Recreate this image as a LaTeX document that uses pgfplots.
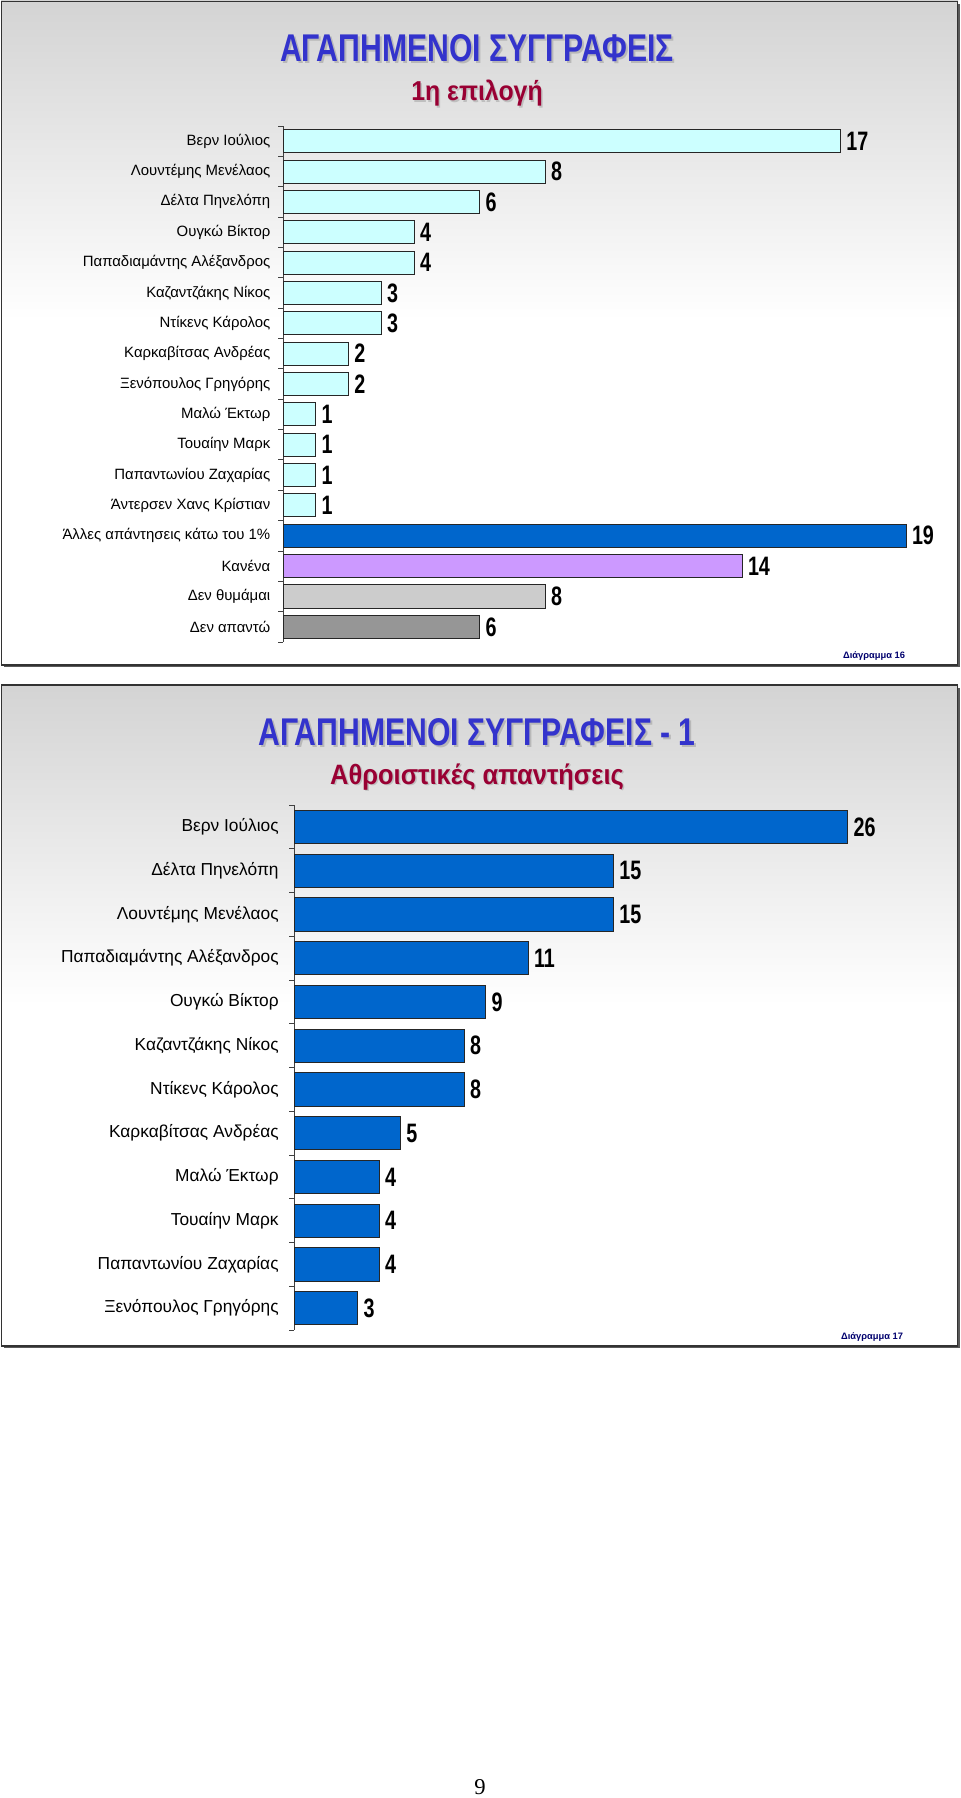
\documentclass[border=0pt]{standalone}
\usepackage{fontspec}
\setmainfont{Liberation Sans}
\newfontfamily\narrowfont{Liberation Sans}[FakeStretch=0.78]
\newfontfamily\valfont{Liberation Sans}[FakeStretch=0.74]
\newfontfamily\subfont{Liberation Sans}[FakeStretch=0.91]
\newfontfamily\seriffont{Liberation Serif}
\usepackage{pgfplots}
\pgfplotsset{compat=1.18}
\definecolor{titleblue}{RGB}{51,51,204}
\definecolor{subred}{RGB}{153,0,51}
\definecolor{cyanbar}{RGB}{204,255,255}
\definecolor{bluebar}{RGB}{0,102,204}
\definecolor{lilac}{RGB}{204,153,255}
\definecolor{lgray}{RGB}{204,204,204}
\definecolor{dgray}{RGB}{150,150,150}
\definecolor{navy}{RGB}{0,0,110}
\pgfplotsset{
  barchart/.style={
    scale only axis,
    xbar, bar width=0.76, bar shift=0pt,
    xmin=0, y dir=reverse,
    axis x line=none, axis y line*=left,
    axis line style={black!75, line width=0.6pt},
    major tick length=0pt,
    extra y tick labels={},
    extra y tick style={major tick length=3.5pt, tick align=outside, tick style={black!75, line width=0.6pt}},
    yticklabel style={anchor=east, text=black},
    nodes near coords, point meta=x,
    /pgf/number format/assume math mode=true,
    every node near coord/.append style={font=\valfont\bfseries\fontsize{20}{20}\selectfont, text=black, anchor=west, inner sep=1pt, xshift=3pt},
    clip=false,
  },
}
\begin{document}
\begin{tikzpicture}
\path[use as bounding box] (0,0) rectangle (720pt,-1348.5pt);
\begin{scope}[x=0.75pt,y=-0.75pt]
% panel 1
\fill[white] (1,1) rectangle (958,665);
\shade[top color=black!17, bottom color=white] (1,1) rectangle (958,320);
\draw[black!80, line width=0.8pt] (1.5,1.5) rectangle (957.5,665);
\draw[black!65, line width=1.2pt] (4,666.5) -- (959,666.5) -- (959,4);
% panel 2
\fill[white] (1,685) rectangle (958,1346);
\shade[top color=black!17, bottom color=white] (1,685) rectangle (958,1005);
\draw[black!80, line width=0.8pt] (1.5,685) rectangle (957.5,1346);
\draw[black!65, line width=1.2pt] (4,1347.5) -- (959,1347.5) -- (959,688);
% titles
\node[anchor=base, text=black!28, font=\narrowfont\bfseries\fontsize{29}{29}\selectfont] at (479,64) {ΑΓΑΠΗΜΕΝΟΙ ΣΥΓΓΡΑΦΕΙΣ};
\node[anchor=base, text=titleblue, font=\narrowfont\bfseries\fontsize{29}{29}\selectfont] at (477,62) {ΑΓΑΠΗΜΕΝΟΙ ΣΥΓΓΡΑΦΕΙΣ};
\node[anchor=base, text=black!25, font=\subfont\bfseries\fontsize{20.5}{20.5}\selectfont] at (478.5,102.5) {1η επιλογή};
\node[anchor=base, text=subred, font=\subfont\bfseries\fontsize{20.5}{20.5}\selectfont] at (477,101) {1η επιλογή};
\node[anchor=base, text=black!28, font=\narrowfont\bfseries\fontsize{29}{29}\selectfont] at (479,747) {ΑΓΑΠΗΜΕΝΟΙ ΣΥΓΓΡΑΦΕΙΣ - 1};
\node[anchor=base, text=titleblue, font=\narrowfont\bfseries\fontsize{29}{29}\selectfont] at (477,745) {ΑΓΑΠΗΜΕΝΟΙ ΣΥΓΓΡΑΦΕΙΣ - 1};
\node[anchor=base, text=black!25, font=\subfont\bfseries\fontsize{21}{21}\selectfont] at (478.5,785.5) {Αθροιστικές απαντήσεις};
\node[anchor=base, text=subred, font=\subfont\bfseries\fontsize{21}{21}\selectfont] at (477,784) {Αθροιστικές απαντήσεις};
% diagram labels
\node[anchor=base, text=navy, font=\bfseries\fontsize{7}{7}\selectfont] at (874,658) {Διάγραμμα 16};
\node[anchor=base, text=navy, font=\bfseries\fontsize{7}{7}\selectfont] at (872,1339) {Διάγραμμα 17};
% page number
\node[anchor=base, font=\seriffont\fontsize{17}{17}\selectfont] at (480,1794) {9};
\end{scope}

% ---------- chart 1 ----------
\begin{axis}[barchart,
  at={(212.25pt,-94.5pt)}, anchor=north west,
  width=492pt, height=387pt,
  xmax=20, ymin=-0.5, ymax=16.5,
  ytick={0,...,16},
  extra y ticks={-0.5,0.5,...,16.5},
  yticklabels={Βερν Ιούλιος, Λουντέμης Μενέλαος, Δέλτα Πηνελόπη, Ουγκώ Βίκτορ, Παπαδιαμάντης Αλέξανδρος, Καζαντζάκης Νίκος, Ντίκενς Κάρολος, Καρκαβίτσας Ανδρέας, Ξενόπουλος Γρηγόρης, Μαλώ Έκτωρ, Τουαίην Μαρκ, Παπαντωνίου Ζαχαρίας, Άντερσεν Χανς Κρίστιαν, Άλλες απάντησεις κάτω του 1\%, Κανένα, Δεν θυμάμαι, Δεν απαντώ},
  yticklabel style={font=\fontsize{11.2}{11.2}\selectfont, xshift=-6pt},
]
\addplot[fill=cyanbar, draw=black!85, line width=0.7pt] coordinates {
(17,0) (8,1) (6,2) (4,3) (4,4) (3,5) (3,6) (2,7) (2,8) (1,9) (1,10) (1,11) (1,12)};
\addplot[fill=bluebar, draw=black!85, line width=0.7pt] coordinates {(19,13)};
\addplot[fill=lilac, draw=black!85, line width=0.7pt] coordinates {(14,14)};
\addplot[fill=lgray, draw=black!85, line width=0.7pt] coordinates {(8,15)};
\addplot[fill=dgray, draw=black!85, line width=0.7pt] coordinates {(6,16)};
\end{axis}

% ---------- chart 2 ----------
\begin{axis}[barchart,
  at={(220.5pt,-603.75pt)}, anchor=north west,
  width=479.25pt, height=393.75pt,
  xmax=30, ymin=-0.5, ymax=11.5,
  ytick={0,...,11},
  extra y ticks={-0.5,0.5,...,11.5},
  yticklabels={Βερν Ιούλιος, Δέλτα Πηνελόπη, Λουντέμης Μενέλαος, Παπαδιαμάντης Αλέξανδρος, Ουγκώ Βίκτορ, Καζαντζάκης Νίκος, Ντίκενς Κάρολος, Καρκαβίτσας Ανδρέας, Μαλώ Έκτωρ, Τουαίην Μαρκ, Παπαντωνίου Ζαχαρίας, Ξενόπουλος Γρηγόρης},
  yticklabel style={font=\fontsize{13}{13}\selectfont, xshift=-8pt},
]
\addplot[fill=bluebar, draw=black!85, line width=0.7pt] coordinates {
(26,0) (15,1) (15,2) (11,3) (9,4) (8,5) (8,6) (5,7) (4,8) (4,9) (4,10) (3,11)};
\end{axis}
\end{tikzpicture}
\end{document}
